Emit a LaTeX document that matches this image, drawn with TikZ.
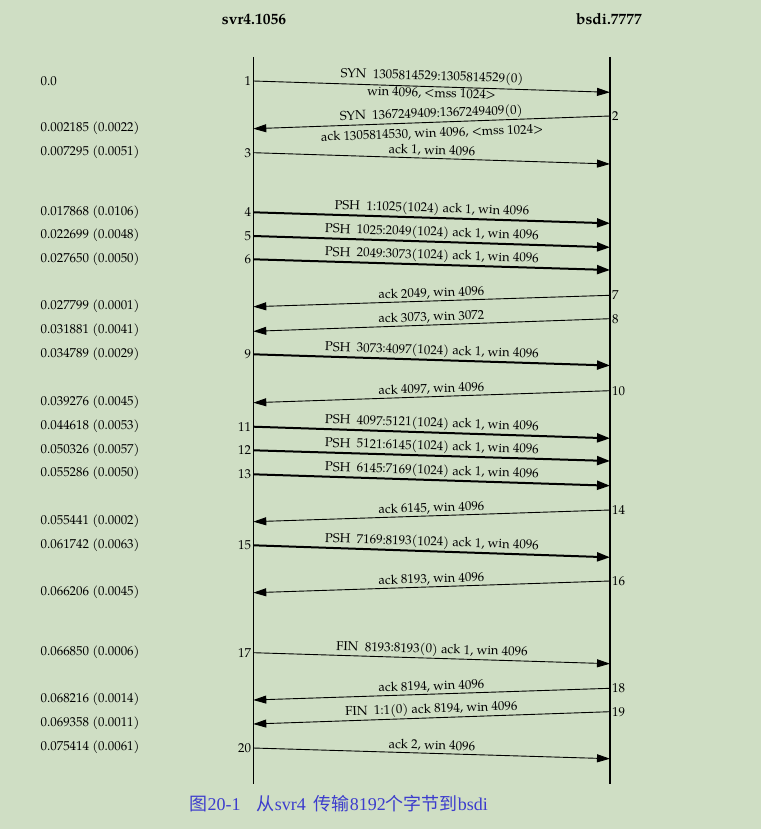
\documentclass[tikz,border=0pt]{standalone}
\usepackage{fontspec}
\setmainfont{TeX Gyre Pagella}
\newfontfamily\cjk{Noto Sans CJK SC}
\newfontfamily\capserif{Liberation Serif}
\usetikzlibrary{arrows.meta}
\definecolor{bg}{RGB}{207,222,196}
\definecolor{capblue}{RGB}{60,60,205}
\begin{document}
\begin{tikzpicture}[x=1pt,y=-1pt,
  lbl/.style={font=\fontsize{12.9}{14}\selectfont, inner sep=1.5pt},
  num/.style={font=\fontsize{12.9}{14}\selectfont, inner sep=2pt},
  ts/.style={font=\fontsize{12.9}{14}\selectfont, anchor=west, inner sep=0pt},
  hdr/.style={font=\fontsize{15.5}{18}\selectfont\bfseries},
  seg/.style={line width=0.9pt, -{Triangle[length=13pt,width=8pt]}},
  dataseg/.style={line width=2pt, -{Triangle[length=13pt,width=9pt]}},
  life/.style={line width=1.2pt}]
\fill[bg] (0,0) rectangle (761,829);
\useasboundingbox (0,0) rectangle (761,829);

% lifelines
\coordinate (Ltop) at (253.3,57);
\coordinate (Lbot) at (253.3,783.5);
\coordinate (Rtop) at (610,57);
\coordinate (Rbot) at (610,783.5);
\draw[life] (Ltop) -- (Lbot);
\draw[life] (Rtop) -- (Rbot);

% headers
\node[hdr] (hA) at (254,19) {svr4.1056};
\node[hdr] (hB) at (609,19) {bsdi.7777};

% timestamps
\node[ts] (t1) at (40.5,81) {0.0};
\node[ts] (t2) at (40.5,128.5) {0.002185 (0.0022)};
\node[ts] (t3) at (40.5,152.5) {0.007295 (0.0051)};
\node[ts] (t4) at (40.5,212) {0.017868 (0.0106)};
\node[ts] (t5) at (40.5,235.5) {0.022699 (0.0048)};
\node[ts] (t6) at (40.5,259) {0.027650 (0.0050)};
\node[ts] (t7) at (40.5,306.5) {0.027799 (0.0001)};
\node[ts] (t8) at (40.5,330.5) {0.031881 (0.0041)};
\node[ts] (t9) at (40.5,354) {0.034789 (0.0029)};
\node[ts] (t10) at (40.5,402.5) {0.039276 (0.0045)};
\node[ts] (t11) at (40.5,426) {0.044618 (0.0053)};
\node[ts] (t12) at (40.5,450) {0.050326 (0.0057)};
\node[ts] (t13) at (40.5,473.5) {0.055286 (0.0050)};
\node[ts] (t14) at (40.5,521) {0.055441 (0.0002)};
\node[ts] (t15) at (40.5,545) {0.061742 (0.0063)};
\node[ts] (t16) at (40.5,592) {0.066206 (0.0045)};
\node[ts] (t17) at (40.5,652) {0.066850 (0.0006)};
\node[ts] (t18) at (40.5,699.5) {0.068216 (0.0014)};
\node[ts] (t19) at (40.5,723) {0.069358 (0.0011)};
\node[ts] (t20) at (40.5,747) {0.075414 (0.0061)};

% endpoints
\coordinate (a1) at (253.3,81);   \coordinate (b1) at (610,92.3);
\coordinate (b2) at (610,116);    \coordinate (a2) at (253.3,128.7);
\coordinate (a3) at (253.3,152.7);\coordinate (b3) at (610,164);
\coordinate (a4) at (253.3,212.3);\coordinate (b4) at (610,223.3);
\coordinate (a5) at (253.3,236);  \coordinate (b5) at (610,247.3);
\coordinate (a6) at (253.3,259.3);\coordinate (b6) at (610,270);
\coordinate (b7) at (610,295.3);  \coordinate (a7) at (253.3,306.7);
\coordinate (b8) at (610,318.7);  \coordinate (a8) at (253.3,331.3);
\coordinate (a9) at (253.3,354.3);\coordinate (b9) at (610,365.5);
\coordinate (b10) at (610,390.7); \coordinate (a10) at (253.3,402.7);
\coordinate (a11) at (253.3,426.7);\coordinate (b11) at (610,438.3);
\coordinate (a12) at (253.3,450.3);\coordinate (b12) at (610,461);
\coordinate (a13) at (253.3,474.3);\coordinate (b13) at (610,485.7);
\coordinate (b14) at (610,510);   \coordinate (a14) at (253.3,521.7);
\coordinate (a15) at (253.3,545.3);\coordinate (b15) at (610,557.3);
\coordinate (b16) at (610,581);   \coordinate (a16) at (253.3,592.7);
\coordinate (a17) at (253.3,652.7);\coordinate (b17) at (610,663.7);
\coordinate (b18) at (610,688.3); \coordinate (a18) at (253.3,700);
\coordinate (b19) at (610,711.7); \coordinate (a19) at (253.3,724);
\coordinate (a20) at (253.3,748); \coordinate (b20) at (610,758.7);

% segments
\draw[seg] (a1) -- (b1)
  node[lbl,midway,sloped,above,yshift=1.5pt] (m1) {SYN\ \ 1305814529:1305814529(0)}
  node[lbl,midway,sloped,below,inner sep=1pt] (m1b) {win 4096, <mss 1024>};
\draw[seg] (b2) -- (a2)
  node[lbl,midway,sloped,above,inner sep=1pt,yshift=0.5pt] (m2) {SYN\ \ 1367249409:1367249409(0)}
  node[lbl,midway,sloped,below,inner sep=1pt,yshift=-4pt] (m2b) {ack 1305814530, win 4096, <mss 1024>};
\draw[seg] (a3) -- (b3) node[lbl,midway,sloped,above] (m3) {ack 1, win 4096};
\draw[dataseg] (a4) -- (b4) node[lbl,midway,sloped,above] (m4) {PSH\ \ 1:1025(1024) ack 1, win 4096};
\draw[dataseg] (a5) -- (b5) node[lbl,midway,sloped,above] (m5) {PSH\ \ 1025:2049(1024) ack 1, win 4096};
\draw[dataseg] (a6) -- (b6) node[lbl,midway,sloped,above] (m6) {PSH\ \ 2049:3073(1024) ack 1, win 4096};
\draw[seg] (b7) -- (a7) node[lbl,midway,sloped,above] (m7) {ack 2049, win 4096};
\draw[seg] (b8) -- (a8) node[lbl,midway,sloped,above] (m8) {ack 3073, win 3072};
\draw[dataseg] (a9) -- (b9) node[lbl,midway,sloped,above] (m9) {PSH\ \ 3073:4097(1024) ack 1, win 4096};
\draw[seg] (b10) -- (a10) node[lbl,midway,sloped,above] (m10) {ack 4097, win 4096};
\draw[dataseg] (a11) -- (b11) node[lbl,midway,sloped,above] (m11) {PSH\ \ 4097:5121(1024) ack 1, win 4096};
\draw[dataseg] (a12) -- (b12) node[lbl,midway,sloped,above] (m12) {PSH\ \ 5121:6145(1024) ack 1, win 4096};
\draw[dataseg] (a13) -- (b13) node[lbl,midway,sloped,above] (m13) {PSH\ \ 6145:7169(1024) ack 1, win 4096};
\draw[seg] (b14) -- (a14) node[lbl,midway,sloped,above] (m14) {ack 6145, win 4096};
\draw[dataseg] (a15) -- (b15) node[lbl,midway,sloped,above] (m15) {PSH\ \ 7169:8193(1024) ack 1, win 4096};
\draw[seg] (b16) -- (a16) node[lbl,midway,sloped,above] (m16) {ack 8193, win 4096};
\draw[seg] (a17) -- (b17) node[lbl,midway,sloped,above] (m17) {FIN\ \ 8193:8193(0) ack 1, win 4096};
\draw[seg] (b18) -- (a18) node[lbl,midway,sloped,above] (m18) {ack 8194, win 4096};
\draw[seg] (b19) -- (a19) node[lbl,midway,sloped,above] (m19) {FIN\ \ 1:1(0) ack 8194, win 4096};
\draw[seg] (a20) -- (b20) node[lbl,midway,sloped,above] (m20) {ack 2, win 4096};

% segment numbers
\node[num,anchor=east] (n1) at (a1) {1};
\node[num,anchor=west] (n2) at (b2) {2};
\node[num,anchor=east] (n3) at (a3) {3};
\node[num,anchor=east] (n4) at (a4) {4};
\node[num,anchor=east] (n5) at (a5) {5};
\node[num,anchor=east] (n6) at (a6) {6};
\node[num,anchor=west] (n7) at (b7) {7};
\node[num,anchor=west] (n8) at (b8) {8};
\node[num,anchor=east] (n9) at (a9) {9};
\node[num,anchor=west] (n10) at (b10) {10};
\node[num,anchor=east] (n11) at (a11) {11};
\node[num,anchor=east] (n12) at (a12) {12};
\node[num,anchor=east] (n13) at (a13) {13};
\node[num,anchor=west] (n14) at (b14) {14};
\node[num,anchor=east] (n15) at (a15) {15};
\node[num,anchor=west] (n16) at (b16) {16};
\node[num,anchor=east] (n17) at (a17) {17};
\node[num,anchor=west] (n18) at (b18) {18};
\node[num,anchor=west] (n19) at (b19) {19};
\node[num,anchor=east] (n20) at (a20) {20};

% caption
\node[font=\cjk\fontsize{18}{20}\selectfont, text=capblue, anchor=west, inner sep=0pt] (cap) at (189.5,804)
  {图{\capserif 20-1}\hspace{0.9em}从{\capserif svr4}\hspace{0.45em}传输{\capserif 8192}个字节到{\capserif bsdi}};
\end{tikzpicture}
\end{document}
